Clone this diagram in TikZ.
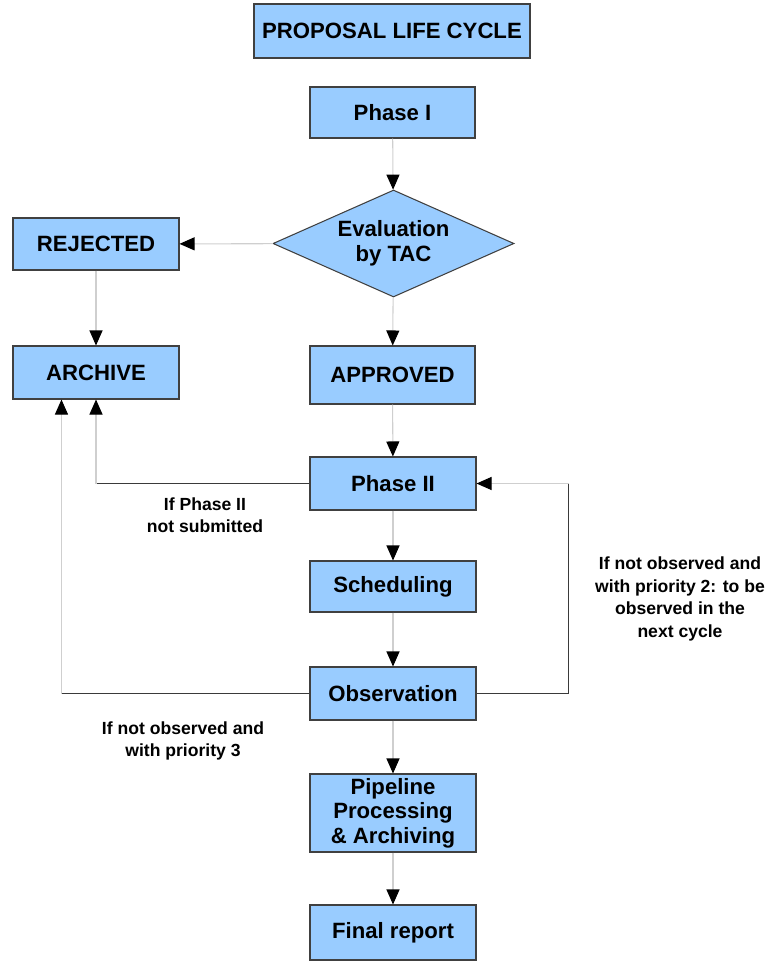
\documentclass[tikz,border=0pt]{standalone}
\usepackage{fontspec}
\setmainfont{Liberation Sans}
\usepackage{tikz}
\usetikzlibrary{shapes.geometric,positioning,calc,arrows.meta}
\definecolor{boxfill}{HTML}{99CCFF}
\definecolor{boxline}{HTML}{404040}
\definecolor{wirelight}{HTML}{CFCFCF}
\definecolor{wiredark}{HTML}{3A3A3A}

\begin{document}
\begin{tikzpicture}[
    stagebox/.style={draw=boxline, fill=boxfill, line width=0.6pt, align=center,
      minimum width=3.32cm, minimum height=1.04cm, inner sep=1pt,
      font=\fontsize{12.6}{14}\selectfont\bfseries},
    decision/.style={diamond, draw=boxline, fill=boxfill, line width=0.6pt, align=center,
      aspect=2.25, minimum width=4.82cm, minimum height=2.14cm, inner sep=0pt,
      font=\fontsize{12.6}{14}\selectfont\bfseries},
    note/.style={align=center, font=\fontsize{10}{12.8}\selectfont\bfseries},
    flow/.style={draw=wirelight, line width=0.6pt, -{Triangle[length=3mm, width=2.6mm, black]}},
    loop/.style={draw=wiredark, line width=0.6pt}
  ]
  \useasboundingbox (0,0) rectangle (15.32,-19.22);

  % title and first phase
  \node[stagebox, minimum width=5.52cm, minimum height=1.08cm] (title) at (7.84,-0.62) {PROPOSAL LIFE CYCLE};
  \node[stagebox, minimum width=3.3cm, minimum height=1.02cm] (phaseI) at (7.85,-2.25) {Phase I};
  \node[decision] (eval) at (7.87,-4.87) {Evaluation\\by TAC};

  % left branch
  \node[stagebox] (rejected) at (1.92,-4.88) {REJECTED};
  \node[stagebox, minimum height=1.06cm] (archive) at (1.92,-7.45) {ARCHIVE};

  % main column
  \node[stagebox, minimum width=3.3cm, minimum height=1.16cm] (approved) at (7.85,-7.5) {APPROVED};
  \node[stagebox, minimum height=1.06cm] (phaseII) at (7.86,-9.67) {Phase II};
  \node[stagebox, minimum height=1.02cm] (sched) at (7.86,-11.73) {Scheduling};
  \node[stagebox, minimum height=1.06cm] (obs) at (7.86,-13.87) {Observation};
  \node[stagebox, minimum height=1.56cm] (pipe) at (7.86,-16.26) {Pipeline\\Processing\\\& Archiving};
  \node[stagebox, minimum height=1.1cm] (final) at (7.86,-18.65) {Final report};

  % condition labels
  \node[note] (noteSubmit) at (4.1,-10.3) {If Phase II\\not submitted};
  \node[note] (noteNext) at (13.6,-11.98) {If not observed and\\with priority 2: to be\\observed in the\\next cycle};
  \node[note] (noteDrop) at (3.66,-14.82) {If not observed and\\with priority 3};

  % straight flow
  \draw[flow] (phaseI) -- (eval);
  \draw[flow] (eval) -- (rejected);
  \draw[flow] (eval) -- (approved);
  \draw[flow] (rejected) -- (archive);
  \draw[flow] (approved) -- (phaseII);
  \draw[flow] (phaseII) -- (sched);
  \draw[flow] (sched) -- (obs);
  \draw[flow] (obs) -- (pipe);
  \draw[flow] (pipe) -- (final);

  % back to archive
  \coordinate (kneeA) at (phaseII.west -| archive.south);
  \draw[loop] (phaseII.west) -- (kneeA);
  \draw[flow] (kneeA) -- (archive.south);
  \coordinate (kneeB) at ($(obs.west) + (-4.96,0)$);
  \draw[loop] (obs.west) -- (kneeB);
  \draw[flow] (kneeB) -- (kneeB |- archive.south);

  % back to phase II
  \coordinate (kneeC) at ($(obs.east) + (1.84,0)$);
  \coordinate (kneeD) at (kneeC |- phaseII.east);
  \draw[loop] (obs.east) -- (kneeC) -- (kneeD);
  \draw[flow] (kneeD) -- (phaseII.east);
\end{tikzpicture}
\end{document}
